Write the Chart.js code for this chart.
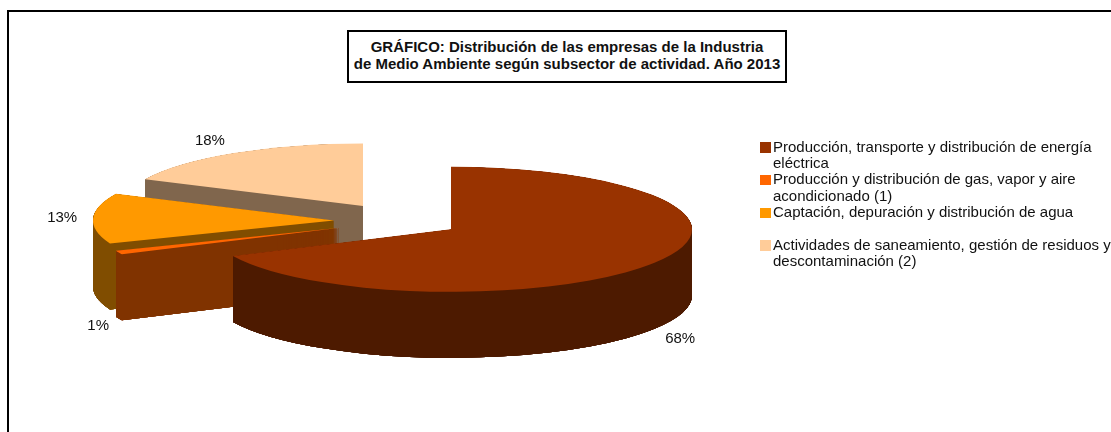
<!DOCTYPE html>
<html>
<head>
<meta charset="utf-8">
<script src="https://cdn.jsdelivr.net/npm/chart.js@4"></script>
<style>
html, body { margin: 0; padding: 0; background: #fff; }
#wrap { position: relative; width: 1111px; height: 432px; overflow: hidden; font-family: "Liberation Sans", Arial, sans-serif; color: #111; }
#wrap canvas { position: absolute; left: 0; top: 0; }
#frame { position: absolute; left: 7px; top: 10px; width: 1110px; height: 430px; border: 2px solid #000; box-sizing: border-box; }
#title { position: absolute; left: 347px; top: 30px; width: 440px; height: 53px; box-sizing: border-box; border: 2px solid #000; background: #fff;
  font-size: 15px; font-weight: bold; line-height: 17px; text-align: center; padding-top: 6px; white-space: nowrap; }
#legend { position: absolute; left: 760px; top: 138.5px; margin: 0; padding: 0; list-style: none; font-size: 15px; line-height: 16.4px; }
#legend li { position: relative; height: 32.8px; padding-left: 13px; white-space: pre; }
#legend i { position: absolute; left: 0; top: 3.5px; width: 10.5px; height: 10.5px; }
</style>
</head>
<body>
<div id="wrap">
  <canvas id="pie" width="1111" height="432"></canvas>
  <div id="frame"></div>
  <div id="title">GRÁFICO: Distribución de las empresas de la Industria<br>de Medio Ambiente según subsector de actividad. Año 2013</div>
  <ul id="legend"></ul>
</div>
<script>
// datos del grafico
var categorias = [
	"Producción, transporte y distribución de energía\neléctrica",
	"Producción y distribución de gas, vapor y aire\nacondicionado (1)",
	"Captación, depuración y distribución de agua",
	"Actividades de saneamiento, gestión de residuos y\ndescontaminación (2)"
];
var valores = [68, 1, 13, 18];
var colores = ["#993300", "#FF6600", "#FF9900", "#FFCC99"];
var coloresLado = ["#4D1A00", "#803300", "#804D00", "#80664D"];

// aspecto del "3D": separacion de cada porcion, aplastado y grosor
var separacion = [60, 65, 66, 69];
var aplastado = 62.5 / 241;
var grosor = 66;
var ajusteEtiqueta = [[26, 10], [-21, 7], [-31, -1], [-24, -12]];

// lienzo aparte para los lados: asi el suavizado de las capas no deja rayas
var capa = document.createElement("canvas");
capa.width = 1111;
capa.height = 432;
var capaCtx = capa.getContext("2d");

var pie3d = {
	id: "pie3d",
	beforeDatasetDraw: function (chart, args) {
		var ctx = chart.ctx;
		var arcos = args.meta.data;
		// de atras hacia delante, cada porcion tapa a la anterior
		for (var i = arcos.length - 1; i >= 0; i--) {
			var arco = arcos[i];
			var medio = (arco.startAngle + arco.endAngle) / 2;
			var dx = Math.round(Math.cos(medio) * separacion[i]);
			var dy = Math.sin(medio) * separacion[i];
			var opts = arco.options;

			capaCtx.clearRect(0, 0, capa.width, capa.height);
			arco.options = Object.assign({}, opts, { backgroundColor: coloresLado[i] });
			for (var d = grosor; d > 0; d -= 0.5) {
				pintar(capaCtx, arco, dx, dy, d);
			}
			arco.options = opts;
			// el redondeo de tantas capas cambia el tono: se repinta de un solo color
			capaCtx.globalCompositeOperation = "source-in";
			capaCtx.fillStyle = coloresLado[i];
			capaCtx.fillRect(0, 0, capa.width, capa.height);
			capaCtx.globalCompositeOperation = "source-over";
			for (var n = 0; n < 6; n++) {
				ctx.drawImage(capa, 0, 0);
			}
			pintar(ctx, arco, dx, dy, 0);
		}
		return false;
	},
	afterDraw: function (chart) {
		var ctx = chart.ctx;
		var arcos = chart.getDatasetMeta(0).data;
		ctx.save();
		ctx.font = "15px 'Liberation Sans', Arial, sans-serif";
		ctx.fillStyle = "#111";
		ctx.textAlign = "center";
		ctx.textBaseline = "middle";
		arcos.forEach(function (arco, i) {
			var medio = (arco.startAngle + arco.endAngle) / 2;
			var r = arco.outerRadius + separacion[i];
			var x = arco.x + Math.cos(medio) * r;
			var y = arco.y + Math.sin(medio) * r * aplastado;
			if (Math.sin(medio) > 0) y += grosor;
			ctx.fillText(valores[i] + "%", x + ajusteEtiqueta[i][0], y + ajusteEtiqueta[i][1]);
		});
		ctx.restore();
	}
};

function pintar(ctx, arco, dx, dy, d) {
	ctx.save();
	ctx.translate(arco.x, arco.y + d);
	ctx.scale(1, aplastado);
	ctx.translate(dx - arco.x, dy - arco.y);
	arco.draw(ctx);
	ctx.restore();
}

new Chart(document.getElementById("pie"), {
	type: "pie",
	data: {
		labels: categorias,
		datasets: [{ data: valores, backgroundColor: colores, borderWidth: 0 }]
	},
	options: {
		responsive: false,
		animation: false,
		radius: 241,
		layout: { padding: { top: 10, right: 311 } },
		plugins: { legend: { display: false }, tooltip: { enabled: false } }
	},
	plugins: [pie3d]
});

var lista = document.getElementById("legend");
categorias.forEach(function (texto, i) {
	var li = document.createElement("li");
	var caja = document.createElement("i");
	caja.style.background = colores[i];
	li.appendChild(caja);
	li.appendChild(document.createTextNode(texto));
	lista.appendChild(li);
});
</script>
</body>
</html>
